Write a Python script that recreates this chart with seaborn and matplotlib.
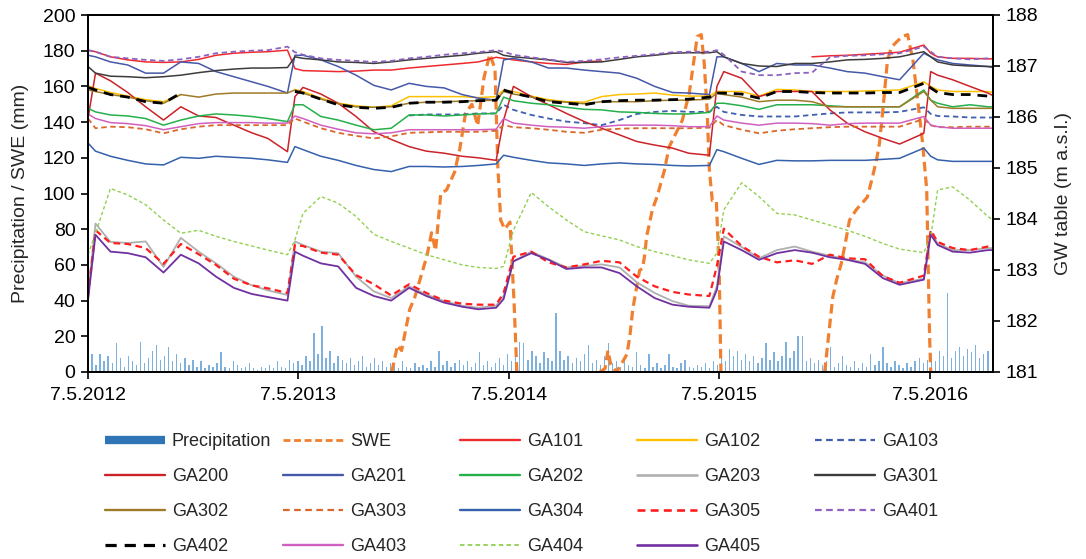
import numpy as np
import pandas as pd
import matplotlib
matplotlib.use("Agg")
import matplotlib.pyplot as plt
from matplotlib.lines import Line2D
import seaborn as sns

nan = np.nan

# ---------------- data ----------------
GRID_DATES = ["2012-05-07", "2012-05-20", "2012-06-15", "2012-07-15", "2012-08-15", "2012-09-15",
              "2012-10-15", "2012-11-15", "2012-12-15", "2013-01-15", "2013-02-15", "2013-03-15",
              "2013-04-18", "2013-05-01", "2013-05-15", "2013-06-15", "2013-07-15", "2013-08-15",
              "2013-09-15", "2013-10-15", "2013-11-15", "2013-12-15", "2014-01-15", "2014-02-15",
              "2014-03-15", "2014-04-15", "2014-04-28", "2014-05-15", "2014-06-15", "2014-07-15",
              "2014-08-15", "2014-09-15", "2014-10-15", "2014-11-15", "2014-12-15", "2015-01-15",
              "2015-02-15", "2015-03-15", "2015-04-20", "2015-05-03", "2015-05-15", "2015-06-15",
              "2015-07-15", "2015-08-15", "2015-09-15", "2015-10-15", "2015-11-15", "2015-12-15",
              "2016-01-15", "2016-02-15", "2016-03-15", "2016-04-26", "2016-05-08", "2016-05-20",
              "2016-06-15", "2016-07-15", "2016-08-15", "2016-08-24"]

# groundwater tables (m a.s.l.)
GA101 = [187.31, 187.28, 187.18, 187.12, 187.08, 187.07, 187.08, 187.13, 187.21, 187.25, 187.27, 187.28, 187.31, 186.95, 186.91, 186.90, 186.89, 186.90, 186.92,
         186.92, 186.96, 186.99, 187.02, 187.05, 187.08, 187.17, 187.15, 187.12, 187.08, 187.05, 187.03, 187.08, 187.10, nan, nan, nan, nan,
         nan, nan, nan, nan, nan, nan, nan, nan, 187.18, 187.20, 187.21, 187.23, 187.25, 187.27, 187.41, 187.25, 187.18, 187.15, 187.15, 187.14, 187.14]
GA102 = [186.61, 186.56, 186.48, 186.41, 186.34, 186.30, 186.44, nan, nan, nan, nan, nan, nan, 186.54, 186.50, 186.37, 186.27, 186.22, 186.19,
         186.22, 186.40, 186.40, 186.40, 186.40, 186.38, 186.40, 186.53, 186.50, 186.41, 186.34, 186.30, 186.29, 186.40, 186.44, 186.45, 186.47, 186.43,
         186.41, 186.41, 186.50, 186.50, 186.50, 186.41, 186.54, 186.53, 186.50, 186.50, 186.50, 186.51, 186.52, 186.53, 186.69, 186.60, 186.53, 186.50, 186.50, 186.50, 186.48]
GA103 = [nan, nan, nan, nan, nan, nan, nan, nan, nan, nan, nan, nan, nan, nan, nan, nan, nan, nan, nan,
         nan, 186.03, 186.05, 186.05, 186.05, 186.07, 186.07, 186.24, 186.14, 186.04, 185.97, 185.91, 185.88, 185.84, 185.94, 186.06, 186.10, 186.12,
         186.10, 186.10, 186.20, 186.10, 186.04, 186.01, 186.01, 186.01, 186.04, 186.07, 186.09, 186.09, 186.09, 186.10, 186.19, 186.06, 186.02, 186.01, 185.99, 185.99, 185.99]
GA200 = [185.97, 186.86, 186.71, 186.48, 186.20, 185.94, 186.20, 186.02, 185.99, 185.84, 185.69, 185.58, 185.32, 186.40, 186.58, 186.45, 186.27, 186.01, 185.71,
         185.56, 185.42, 185.33, 185.29, 185.23, 185.20, 185.15, 185.94, 186.60, 186.40, 186.24, 186.07, 185.91, 185.78, 185.65, 185.52, 185.45, 185.39,
         185.29, 185.25, 186.60, 186.89, 186.76, 186.40, 186.50, 186.50, 186.50, 186.14, 185.88, 185.71, 185.58, 185.47, 185.68, 186.89, 186.82, 186.73, 186.60, 186.47, 186.42]
GA201 = [187.21, 187.18, 187.08, 187.02, 186.86, 186.86, 187.08, 187.05, 186.89, 186.79, 186.69, 186.60, 186.47, 187.21, 187.21, 187.12, 186.99, 186.82, 186.62,
         186.53, 186.66, 186.60, 186.57, 186.44, 186.37, 186.33, 187.12, 187.15, 187.08, 186.96, 186.96, 186.92, 186.89, 186.86, 186.76, 186.60, 186.48,
         186.47, 186.44, 187.18, 187.18, 187.05, 186.89, 187.05, 187.02, 187.02, 186.96, 186.89, 186.86, 186.79, 186.73, 187.25, 187.18, 187.12, 187.05, 187.02, 186.99, 186.97]
GA202 = [186.17, 186.10, 186.04, 186.02, 185.97, 185.84, 185.94, 186.02, 186.06, 186.04, 186.01, 185.97, 185.91, 186.24, 186.24, 186.01, 185.94, 185.84, 185.75,
         185.78, 186.04, 186.04, 186.02, 186.04, 186.06, 186.07, 186.39, 186.32, 186.27, 186.24, 186.19, 186.15, 186.14, 186.10, 186.09, 186.07, 186.06,
         186.06, 186.09, 186.27, 186.27, 186.22, 186.15, 186.24, 186.24, 186.24, 186.22, 186.20, 186.20, 186.20, 186.20, 186.53, 186.33, 186.27, 186.20, 186.24, 186.20, 186.20]
GA203 = [182.53, 183.91, 183.55, 183.53, 183.56, 183.06, 183.63, 183.36, 183.13, 182.87, 182.70, 182.60, 182.51, 183.56, 183.49, 183.36, 183.33, 182.87, 182.58,
         182.45, 182.68, 182.52, 182.39, 182.30, 182.26, 182.30, 182.49, 183.17, 183.36, 183.21, 183.05, 183.08, 183.11, 183.05, 182.76, 182.55, 182.39,
         182.30, 182.29, 182.68, 183.66, 183.45, 183.23, 183.39, 183.46, 183.36, 183.28, 183.21, 183.15, 182.89, 182.74, 182.83, 183.75, 183.52, 183.39, 183.39, 183.43, 183.43]
GA301 = [186.99, 186.86, 186.80, 186.79, 186.77, 186.79, 186.82, 186.87, 186.91, 186.94, 186.96, 186.96, 186.97, 187.18, 187.15, 187.12, 187.08, 187.07, 187.05,
         187.08, 187.12, 187.15, 187.18, 187.21, 187.25, 187.28, 187.21, 187.18, 187.15, 187.12, 187.07, 187.07, 187.08, 187.13, 187.18, 187.21, 187.25,
         187.26, 187.26, 187.28, 187.18, 187.05, 187.00, 186.99, 187.05, 187.05, 187.08, 187.12, 187.13, 187.15, 187.18, 187.28, 187.18, 187.08, 187.02, 187.00, 186.99, 186.99]
GA302 = [186.53, 186.50, 186.44, 186.39, 186.32, 186.27, 186.44, 186.39, 186.45, 186.47, 186.47, 186.47, 186.47, 186.53, 186.47, 186.35, 186.26, 186.20, 186.19,
         186.20, 186.27, 186.29, 186.30, 186.31, 186.32, 186.33, 186.50, 186.45, 186.39, 186.32, 186.29, 186.26, 186.30, 186.30, 186.30, 186.32, 186.33,
         186.33, 186.35, 186.47, 186.44, 186.39, 186.30, 186.33, 186.33, 186.30, 186.20, 186.20, 186.20, 186.20, 186.20, 186.50, 186.33, 186.20, 186.17, 186.17, 186.17, 186.17]
GA303 = [185.97, 185.78, 185.81, 185.80, 185.76, 185.68, 185.76, 185.81, 185.84, 185.84, 185.84, 185.84, 185.84, 185.97, 185.91, 185.78, 185.69, 185.63, 185.58,
         185.62, 185.69, 185.70, 185.71, 185.71, 185.71, 185.73, 185.84, 185.80, 185.78, 185.75, 185.71, 185.69, 185.75, 185.77, 185.78, 185.78, 185.78,
         185.78, 185.79, 185.94, 185.84, 185.75, 185.68, 185.73, 185.76, 185.78, 185.80, 185.81, 185.81, 185.81, 185.81, 185.96, 185.84, 185.80, 185.80, 185.81, 185.81, 185.81]
GA304 = [185.49, 185.33, 185.23, 185.15, 185.08, 185.06, 185.21, 185.19, 185.23, 185.21, 185.19, 185.16, 185.11, 185.42, 185.36, 185.23, 185.15, 185.05, 184.97,
         184.93, 185.03, 185.03, 185.02, 185.03, 185.05, 185.08, 185.25, 185.21, 185.15, 185.10, 185.08, 185.05, 185.08, 185.10, 185.08, 185.07, 185.05,
         185.04, 185.05, 185.36, 185.32, 185.19, 185.07, 185.15, 185.14, 185.14, 185.15, 185.15, 185.15, 185.17, 185.19, 185.39, 185.23, 185.16, 185.13, 185.13, 185.13, 185.13]
GA305 = [182.49, 183.78, 183.53, 183.51, 183.43, 183.12, 183.51, 183.31, 183.10, 182.83, 182.70, 182.64, 182.55, 183.49, 183.47, 183.34, 183.30, 182.90, 182.72,
         182.50, 182.72, 182.55, 182.40, 182.34, 182.32, 182.32, 182.55, 183.26, 183.36, 183.15, 183.05, 183.11, 183.18, 183.15, 182.87, 182.68, 182.57,
         182.52, 182.49, 183.08, 183.81, 183.47, 183.26, 183.15, 183.19, 183.12, 183.30, 183.23, 183.21, 182.88, 182.75, 182.89, 183.78, 183.55, 183.43, 183.39, 183.46, 183.46]
GA401 = [187.31, 187.28, 187.18, 187.15, 187.12, 187.10, 187.13, 187.18, 187.25, 187.28, 187.30, 187.31, 187.38, 187.27, 187.22, 187.15, 187.12, 187.10, 187.08,
         187.10, 187.15, 187.18, 187.22, 187.25, 187.27, 187.31, 187.28, 187.22, 187.17, 187.13, 187.08, 187.10, 187.13, 187.17, 187.20, 187.23, 187.27,
         187.28, 187.28, 187.31, 187.22, 186.89, 186.82, 186.82, 186.86, 186.87, 187.17, 187.20, 187.21, 187.23, 187.25, 187.38, 187.28, 187.18, 187.15, 187.13, 187.15, 187.15]
GA402 = [186.58, 186.53, 186.44, 186.39, 186.30, 186.27, 186.47, nan, nan, nan, nan, nan, nan, 186.50, 186.47, 186.35, 186.24, 186.19, 186.17,
         186.19, 186.27, 186.29, 186.29, 186.30, 186.32, 186.33, 186.53, 186.47, 186.39, 186.30, 186.27, 186.24, 186.30, 186.32, 186.33, 186.33, 186.34,
         186.35, 186.39, 186.47, 186.47, 186.45, 186.37, 186.50, 186.50, 186.48, 186.47, 186.47, 186.47, 186.48, 186.48, 186.66, 186.57, 186.48, 186.44, 186.44, 186.41, 186.41]
GA403 = [186.06, 185.97, 185.89, 185.87, 185.83, 185.75, 185.81, 185.87, 185.89, 185.89, 185.89, 185.88, 185.88, 186.02, 185.97, 185.84, 185.76, 185.69, 185.67,
         185.69, 185.75, 185.75, 185.75, 185.75, 185.75, 185.76, 185.97, 185.88, 185.84, 185.81, 185.80, 185.78, 185.81, 185.84, 185.84, 185.84, 185.83,
         185.81, 185.81, 186.02, 185.94, 185.88, 185.84, 185.88, 185.88, 185.87, 185.84, 185.87, 185.88, 185.88, 185.88, 186.01, 185.84, 185.81, 185.78, 185.78, 185.78, 185.78]
GA404 = [183.30, 183.72, 184.60, 184.47, 184.28, 183.98, 183.72, 183.78, 183.66, 183.56, 183.47, 183.39, 183.30, 183.59, 184.11, 184.44, 184.31, 184.05, 183.70,
         183.56, 183.43, 183.30, 183.20, 183.10, 183.05, 183.03, 183.07, 183.78, 184.52, 184.24, 183.98, 183.75, 183.67, 183.59, 183.46, 183.36, 183.28,
         183.20, 183.13, 183.33, 184.18, 184.71, 184.44, 184.11, 184.08, 183.98, 183.88, 183.78, 183.66, 183.52, 183.41, 183.34, 183.66, 184.57, 184.63, 184.37, 184.05, 183.98]
GA405 = [182.41, 183.69, 183.36, 183.33, 183.25, 182.95, 183.30, 183.13, 182.87, 182.65, 182.53, 182.47, 182.40, 183.36, 183.28, 183.13, 183.07, 182.65, 182.49,
         182.40, 182.65, 182.49, 182.36, 182.28, 182.23, 182.26, 182.43, 183.17, 183.33, 183.20, 183.02, 183.05, 183.05, 182.94, 182.68, 182.45, 182.32,
         182.28, 182.26, 182.61, 183.56, 183.39, 183.20, 183.33, 183.39, 183.34, 183.25, 183.20, 183.12, 182.84, 182.71, 182.81, 183.69, 183.49, 183.36, 183.34, 183.39, 183.39]

# snow water equivalent (mm), NaN separates the winters
SWE_DATES = ["2013-10-16", "2013-10-26", "2013-11-02", "2013-11-16", "2013-11-25", "2013-12-16", "2013-12-24",
             "2013-12-31", "2014-01-09", "2014-01-19", "2014-02-02", "2014-02-11", "2014-02-21", "2014-03-04",
             "2014-03-14", "2014-03-25", "2014-04-04", "2014-04-13", "2014-04-18", "2014-04-23", "2014-04-30",
             "2014-05-09", "2014-05-16", "2014-05-21", "2014-08-01",
             "2014-10-12", "2014-10-21", "2014-10-26", "2014-10-31", "2014-11-10", "2014-11-21", "2014-11-28",
             "2014-12-03", "2014-12-08", "2014-12-15", "2014-12-20", "2014-12-25", "2014-12-29", "2015-01-01",
             "2015-01-06", "2015-01-11", "2015-01-19", "2015-01-26", "2015-02-01", "2015-02-09", "2015-03-04",
             "2015-03-16", "2015-03-30", "2015-04-06", "2015-04-11", "2015-04-16", "2015-04-20", "2015-04-25",
             "2015-05-02", "2015-05-07", "2015-05-10", "2015-08-01",
             "2015-11-06", "2015-11-09", "2015-11-14", "2015-11-20", "2015-11-27", "2015-12-05", "2015-12-14",
             "2015-12-19", "2015-12-31", "2016-01-11", "2016-01-19", "2016-01-27", "2016-02-04", "2016-02-09",
             "2016-02-15", "2016-02-23", "2016-03-01", "2016-03-10", "2016-03-20", "2016-03-29", "2016-04-01",
             "2016-04-07", "2016-04-14", "2016-04-24", "2016-05-01", "2016-05-06", "2016-05-08"]
SWE = [0, 15, 12, 35, 42, 65, 78,
       68, 100, 102, 112, 125, 145, 150,
       138, 165, 178, 170, 115, 85, 80,
       84, 40, 0, nan,
       0, 2, 12, 4, 0, 6, 10,
       20, 35, 48, 57, 58, 66, 76,
       83, 91, 98, 106, 113, 126, 141,
       156, 188, 189, 173, 147, 113, 96,
       96, 57, 0, nan,
       0, 9, 24, 42, 52, 61, 76,
       85, 91, 95, 98, 108, 119, 128,
       147, 175, 182, 185, 188, 189, 184,
       175, 156, 128, 102, 20, 0]

# weekly precipitation maxima (mm), weeks starting 7.5.2012
PRECIP_START = "2012-05-07"
PRECIP = [3, 10, 4, 10, 6, 9, 5, 16, 8, 3, 9, 6, 4, 17, 5, 8, 12, 15, 7, 9,
          14, 6, 10, 5, 8, 4, 7, 3, 6, 2, 4, 3, 5, 11, 3, 2, 6, 4, 2, 3,
          5, 2, 1, 3, 2, 4, 2, 6, 3, 2, 7, 5,
          6, 4, 9, 6, 22, 10, 26, 8, 12, 5, 9, 7, 5, 8, 4, 6, 9, 3, 5, 8,
          4, 6, 3, 5, 4, 2, 6, 3, 2, 5, 3, 4, 2, 6, 3, 12, 4, 6, 3, 5,
          7, 4, 6, 3, 5, 11, 4, 6, 3, 5, 8, 4,
          10, 6, 14, 17, 16, 7, 12, 9, 5, 11, 8, 6, 33, 12, 7, 9, 5, 8, 6, 10,
          15, 5, 7, 4, 9, 16, 5, 6, 3, 8, 4, 3, 11, 4, 2, 10, 3, 5, 2, 4,
          10, 3, 2, 5, 7, 3, 2, 4, 3, 5, 2, 6,
          4, 8, 6, 13, 9, 12, 7, 10, 6, 9, 5, 8, 16, 7, 11, 6, 9, 17, 8, 12,
          20, 20, 6, 8, 5, 7, 4, 6, 14, 3, 5, 9, 4, 3, 6, 2, 5, 3, 10, 4,
          6, 14, 5, 3, 6, 4, 2, 5, 3, 6, 8, 5,
          7, 10, 6, 12, 9, 44, 8, 12, 14, 9, 13, 11, 15, 8, 10, 12]

TICK_DATES = ["2012-05-07", "2013-05-07", "2014-05-07", "2015-05-07", "2016-05-07"]
TICK_LABELS = ["7.5.2012", "7.5.2013", "7.5.2014", "7.5.2015", "7.5.2016"]

GW_NAMES = ["GA101", "GA102", "GA103", "GA200", "GA201", "GA202", "GA203", "GA301", "GA302",
            "GA303", "GA304", "GA305", "GA401", "GA402", "GA403", "GA404", "GA405"]
GW_VALUES = [GA101, GA102, GA103, GA200, GA201, GA202, GA203, GA301, GA302,
             GA303, GA304, GA305, GA401, GA402, GA403, GA404, GA405]

STYLES = {
    "GA101": dict(color="#EE2A2F", lw=1.1, ls="-"),
    "GA102": dict(color="#FFC000", lw=1.1, ls="-"),
    "GA103": dict(color="#3F5FB0", lw=1.3, ls=(0, (3, 2))),
    "GA200": dict(color="#CC2229", lw=1.1, ls="-"),
    "GA201": dict(color="#4658A8", lw=1.1, ls="-"),
    "GA202": dict(color="#25B04A", lw=1.1, ls="-"),
    "GA203": dict(color="#B0B0B0", lw=1.3, ls="-"),
    "GA301": dict(color="#3C3C3C", lw=1.1, ls="-"),
    "GA302": dict(color="#9E7B28", lw=1.1, ls="-"),
    "GA303": dict(color="#D8692A", lw=1.3, ls=(0, (3, 2))),
    "GA304": dict(color="#3460AC", lw=1.1, ls="-"),
    "GA305": dict(color="#FF1E1E", lw=1.6, ls=(0, (3, 2))),
    "GA401": dict(color="#8E62C0", lw=1.3, ls=(0, (3, 2))),
    "GA402": dict(color="black", lw=2.0, ls=(0, (3.5, 2.5))),
    "GA403": dict(color="#D060C0", lw=1.1, ls="-"),
    "GA404": dict(color="#92D050", lw=1.0, ls=(0, (2.5, 1.8))),
    "GA405": dict(color="#7030A0", lw=1.3, ls="-"),
}
SWE_STYLE = dict(color="#F0802F", lw=2.3, ls=(0, (3, 1.6)))
PRECIP_COLOR = "#7EB0DE"
PRECIP_LEGEND_COLOR = "#2E75B6"

# ---------------- plotting ----------------
sns.set_style("ticks")
plt.rcParams["font.family"] = ["Liberation Sans", "DejaVu Sans"]

for v in GW_VALUES:
    assert len(v) == len(GRID_DATES)
assert len(SWE) == len(SWE_DATES)


def draw(ax, dates, values, color, lw, ls):
    s = pd.Series(values, index=pd.to_datetime(dates), dtype=float)
    seg = s.isna().cumsum()
    ok = s.notna()
    for _, part in s[ok].groupby(seg[ok]):
        if len(part) < 2:
            continue
        sns.lineplot(x=part.index, y=part.values, ax=ax, color=color, linewidth=lw,
                     linestyle=ls, legend=False, estimator=None, sort=False)


W, H = 1086, 559
fig = plt.figure(figsize=(W / 100, H / 100), dpi=100)
ax = fig.add_axes([88 / W, 1 - 372 / H, (993 - 88) / W, (372 - 15) / H])
ax2 = ax.twinx()

pdates = pd.date_range(PRECIP_START, periods=len(PRECIP), freq="7D")
ax.bar(pdates, PRECIP, width=2.4, color=PRECIP_COLOR, linewidth=0, zorder=1)
draw(ax, SWE_DATES, SWE, **SWE_STYLE)

for name, vals in zip(GW_NAMES, GW_VALUES):
    draw(ax2, GRID_DATES, vals, **STYLES[name])

tick_pos = pd.to_datetime(TICK_DATES)
ax.set_xlim(pd.Timestamp("2012-05-07"), pd.Timestamp("2016-08-24"))
ax.set_ylim(0, 200)
ax2.set_ylim(181, 188)
ax.set_xticks(tick_pos)
ax.set_xticklabels(TICK_LABELS)
ax.set_yticks(np.arange(0, 201, 20))
ax2.set_yticks(np.arange(181, 189, 1))
ax.set_xlabel("")
ax2.set_xlabel("")
ax.set_ylabel("Precipitation / SWE (mm)", fontsize=14, labelpad=10)
ax2.set_ylabel("GW table (m a.s.l.)", fontsize=14, labelpad=12)

for a in (ax, ax2):
    for sp in a.spines.values():
        sp.set_visible(True)
        sp.set_color("black")
        sp.set_linewidth(1.3)
ax.tick_params(axis="both", direction="out", length=5, width=1.2, labelsize=14, colors="black", pad=4)
ax2.tick_params(axis="y", direction="out", length=5, width=1.2, labelsize=14, colors="black", pad=4)
ax.tick_params(axis="x", pad=6)

# legend: 5 fixed-width columns, filled row by row
entries = [(Line2D([], [], color=PRECIP_LEGEND_COLOR, lw=6, solid_capstyle="butt"), "Precipitation"),
           (Line2D([], [], color=SWE_STYLE["color"], lw=2.0, ls=(0, (2.5, 1.3))), "SWE")]
for name in GW_NAMES:
    st = STYLES[name]
    entries.append((Line2D([], [], color=st["color"], lw=st["lw"] + 0.3 if st["ls"] != "-" else st["lw"] + 0.6,
                           ls=st["ls"]), name))

col_x = [105, 283, 460, 637, 815]
for c in range(5):
    items = entries[c::5]
    fig.legend([h for h, _ in items], [l for _, l in items], loc="upper left",
               bbox_to_anchor=(col_x[c] / W, 1 - 433 / H), frameon=False, fontsize=13,
               handlelength=3.3, handletextpad=0.4, labelspacing=1.0, borderpad=0,
               borderaxespad=0)

fig.savefig("out.png", dpi=100)
